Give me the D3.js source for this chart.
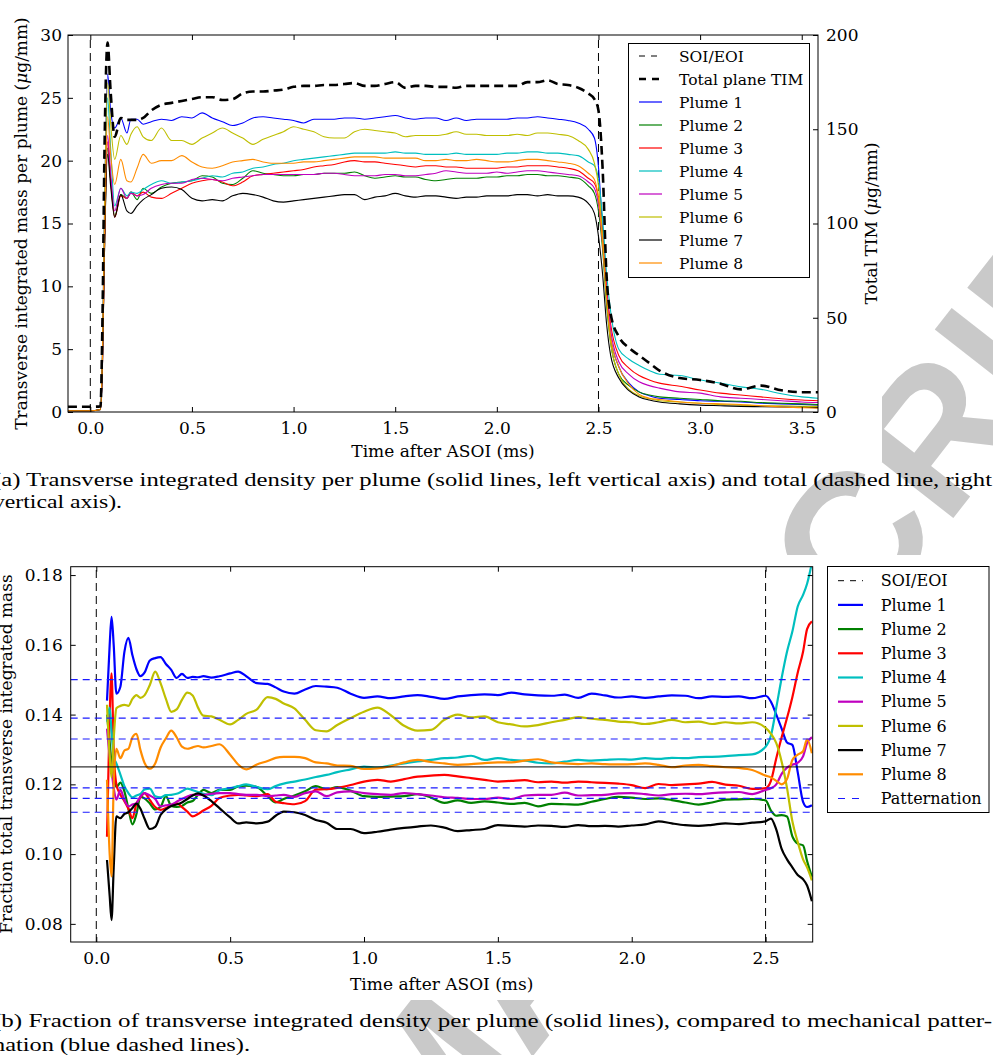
<!DOCTYPE html>
<html>
<head>
<meta charset="utf-8">
<script src="https://cdn.jsdelivr.net/npm/d3@7"></script>
<style>
  body { margin: 0; background: #fff; }
  svg { display: block; }
  text { font-family: "DejaVu Serif", serif; fill: #000; }
</style>
</head>
<body>
<svg id="fig" width="993" height="1055"></svg>
<script>
// ---------- Panel (a): transverse integrated mass per plume ----------
const tA = [-0.11, 0.0, 0.05, 0.06, 0.07, 0.085, 0.1,
  0.12, 0.15, 0.18, 0.2, 0.23, 0.26, 0.3,
  0.35, 0.4, 0.45, 0.5, 0.55, 0.6, 0.65, 0.7, 0.75, 0.8,
  0.85, 0.9, 0.95, 1.0, 1.05, 1.1, 1.15, 1.2, 1.25, 1.3,
  1.35, 1.4, 1.45, 1.5, 1.55, 1.6, 1.65, 1.7, 1.75, 1.8,
  1.85, 1.9, 1.95, 2.0, 2.05, 2.1, 2.15, 2.2, 2.25, 2.3,
  2.35, 2.4, 2.45,
  2.48, 2.5, 2.52, 2.54, 2.56, 2.6, 2.65, 2.7, 2.75, 2.8, 2.9, 3.0, 3.1, 3.2, 3.3, 3.4, 3.5, 3.58];

const massP1 = [0.1, 0.1, 0.2, 5, 16, 26.9, 24.0,
  22.6, 23.4, 22.2, 23.3, 23.3, 22.9, 23.1,
  23.3, 23.2, 23.5, 23.4, 23.8, 23.4, 23.1, 22.8, 23.0, 23.4,
  23.5, 23.4, 23.3, 23.2, 23.0, 23.3, 23.3, 23.3, 23.4, 23.4,
  23.3, 23.4, 23.5, 23.6, 23.4, 23.3, 23.4, 23.4, 23.2, 23.4,
  23.2, 23.3, 23.3, 23.3, 23.3, 23.4, 23.4, 23.5, 23.4, 23.3,
  23.2, 23.0, 22.5,
  21.8, 19.5, 14.5, 9.5, 6.0, 3.6, 2.3, 1.6, 1.3, 1.1, 1.0, 0.9, 0.85, 0.8, 0.7, 0.65, 0.6, 0.55];
const massP2 = [0.1, 0.1, 0.2, 4, 13, 21.0, 18.5,
  15.6, 17.3, 17.0, 17.5, 16.9, 17.8, 17.4,
  17.9, 18.2, 18.3, 18.4, 18.8, 18.7, 18.2, 18.1, 18.6, 19.2,
  19.0, 18.9, 18.8, 18.8, 18.9, 18.9, 19.0, 19.0, 19.0, 19.1,
  18.8, 18.6, 18.7, 18.8, 18.7, 18.7, 18.5, 18.4, 18.5, 18.6,
  18.6, 18.6, 18.7, 18.7, 18.8, 18.8, 18.9, 18.9, 18.8, 18.8,
  18.7, 18.6, 18.0,
  17.4, 16.0, 13.0, 8.5, 5.5, 3.0, 2.1, 1.6, 1.35, 1.2, 1.1, 1.0, 0.9, 0.85, 0.75, 0.7, 0.65, 0.6];
const massP3 = [0.1, 0.1, 0.2, 4, 13, 21.5, 18.5,
  15.5, 17.2, 17.0, 17.5, 17.2, 17.5, 17.1,
  17.0, 17.4, 17.8, 18.2, 18.4, 18.5, 18.3, 18.0, 18.3, 18.8,
  18.9, 19.0, 19.1, 19.2, 19.3, 19.5, 19.6, 19.7, 19.9, 20.0,
  19.9, 19.9, 19.8, 19.7, 19.6, 19.5, 19.6, 19.6, 19.5, 19.5,
  19.4, 19.4, 19.4, 19.4, 19.5, 19.5, 19.6, 19.6, 19.6, 19.5,
  19.4, 19.2, 18.6,
  18.2, 17.0, 14.0, 10.0, 7.0, 4.5, 3.5, 2.9, 2.55, 2.3, 2.05, 1.75, 1.5, 1.35, 1.2, 1.05, 0.95, 0.9];
const massP4 = [0.1, 0.1, 0.2, 4.5, 15, 25.0, 21.0,
  16.4, 17.8, 17.2, 17.5, 17.4, 17.7, 18.1,
  18.4, 18.2, 18.3, 18.4, 18.6, 18.8, 18.7, 19.0, 19.1, 19.4,
  19.5, 19.7, 19.8, 20.0, 20.1, 20.2, 20.3, 20.4, 20.5, 20.6,
  20.6, 20.6, 20.6, 20.7, 20.6, 20.6, 20.5, 20.5, 20.5, 20.6,
  20.5, 20.5, 20.5, 20.5, 20.6, 20.6, 20.7, 20.7, 20.6, 20.6,
  20.5, 20.4, 19.9,
  19.6, 18.5, 15.5, 11.0, 8.0, 5.0, 4.2, 3.7, 3.3, 3.0, 2.9, 2.55, 2.3, 2.0, 1.8, 1.45, 1.2, 1.1];
const massP5 = [0.1, 0.1, 0.2, 4, 14, 22.0, 19.0,
  16.0, 17.8, 17.0, 17.4, 17.2, 17.3, 17.8,
  18.1, 18.2, 18.2, 18.5, 18.6, 18.5, 18.4, 18.6, 18.7, 18.8,
  18.9, 18.9, 18.9, 18.9, 18.9, 18.9, 19.0, 19.0, 18.9, 18.8,
  18.8, 18.8, 18.9, 18.9, 18.8, 18.8, 18.9, 19.0, 19.2, 19.1,
  19.0, 19.0, 19.0, 19.1, 19.0, 19.1, 19.2, 19.2, 19.1, 19.0,
  18.9, 18.8, 18.3,
  17.8, 16.5, 13.5, 9.5, 6.5, 4.0, 3.0, 2.4, 2.1, 1.9, 1.6, 1.5, 1.2, 1.1, 1.0, 0.9, 0.8, 0.75];
const massP6 = [0.1, 0.1, 0.2, 5, 16, 26.2, 23.0,
  20.1, 22.0, 21.3, 22.1, 22.7, 21.9, 21.6,
  22.6, 21.6, 21.6, 21.3, 21.8, 22.2, 22.6, 22.2, 21.8, 21.3,
  21.7, 22.0, 22.3, 22.7, 22.5, 22.3, 21.9, 21.8, 21.8, 22.3,
  22.5, 22.4, 22.3, 22.2, 21.9, 22.0, 22.0, 22.0, 22.1, 22.3,
  22.1, 22.1, 22.0, 22.0, 22.0, 22.1, 22.0, 22.2, 22.2, 22.1,
  22.0, 21.6, 20.9,
  19.8, 18.0, 14.0, 9.0, 5.5, 3.0, 1.8, 1.3, 1.05, 0.9, 0.8, 0.7, 0.6, 0.55, 0.5, 0.5, 0.45, 0.45];
const massP7 = [0.1, 0.1, 0.2, 4, 13, 20.5, 18.0,
  15.5, 17.3, 16.0, 15.8, 16.4, 16.9, 17.3,
  17.8, 17.9, 17.7, 17.0, 16.8, 16.9, 16.8, 17.2, 17.4, 17.3,
  17.1, 16.8, 16.7, 16.8, 16.9, 17.0, 17.1, 17.2, 17.3, 17.3,
  16.9, 17.1, 17.2, 17.4, 17.2, 17.1, 17.2, 17.2, 17.1, 17.0,
  17.1, 17.1, 17.2, 17.2, 17.2, 17.3, 17.3, 17.2, 17.3, 17.2,
  17.2, 17.1, 16.6,
  15.8, 14.0, 11.0, 7.0, 4.5, 2.7, 1.7, 1.2, 0.95, 0.8, 0.65, 0.55, 0.5, 0.45, 0.42, 0.4, 0.37, 0.35];
const massP8 = [0.1, 0.1, 0.2, 4.5, 14, 23.5, 20.5,
  18.1, 20.1, 18.4, 18.3, 19.4, 20.5, 19.8,
  20.0, 20.0, 20.4, 19.9, 19.5, 19.4, 19.6, 19.9, 20.0, 20.1,
  19.9, 19.8, 19.8, 19.8, 19.9, 19.9, 20.0, 20.1, 20.2, 20.3,
  20.3, 20.3, 20.2, 20.2, 20.2, 20.2, 20.0, 20.0, 20.1, 20.0,
  20.0, 20.1, 20.0, 19.9, 19.9, 20.0, 20.1, 20.1, 20.0, 19.9,
  19.8, 19.6, 19.0,
  18.5, 17.0, 13.5, 9.0, 6.0, 3.6, 2.2, 1.4, 1.1, 1.0, 0.8, 0.7, 0.65, 0.6, 0.5, 0.4, 0.35, 0.3];
// Total plane TIM, right axis (ug/mm)
const totalTIM = [2.8, 2.8, 3.0, 50, 140, 196, 170,
  146, 156, 155, 155, 155, 156, 160,
  163, 164, 165, 166, 167, 167, 165.5, 166, 169, 170,
  170, 170.5, 171, 172.5, 173, 173, 173.5, 173.5, 174, 174.5,
  173, 173, 174, 175, 172, 173, 173, 172.5, 172.5, 172,
  173, 173, 173, 173, 173, 173, 175, 175, 176, 174,
  173.5, 172, 169,
  166, 160, 130, 72, 52, 40, 34, 30, 26, 22, 18, 17, 15, 12, 14, 11.5, 10.5, 10.5];

const ticksAx = [0, 0.5, 1.0, 1.5, 2.0, 2.5, 3.0, 3.5];
const ticksAyLeft = [0, 5, 10, 15, 20, 25, 30];
const ticksAyRight = [0, 50, 100, 150, 200];

// ---------- Panel (b): fraction of total transverse integrated mass ----------
const tB = [0.04, 0.05, 0.057, 0.065, 0.075, 0.09, 0.105, 0.12, 0.135, 0.15,
  0.165, 0.18, 0.2, 0.22, 0.24, 0.26, 0.28, 0.3, 0.32, 0.34,
  0.36, 0.38, 0.4, 0.43, 0.46, 0.5, 0.53, 0.56, 0.6, 0.64,
  0.67, 0.7, 0.74, 0.78, 0.82, 0.86, 0.9, 0.95, 1.0, 1.05,
  1.1, 1.15, 1.2, 1.25, 1.3, 1.35, 1.4, 1.45, 1.5, 1.55,
  1.6, 1.65, 1.7, 1.75, 1.8, 1.85, 1.9, 1.95, 2.0, 2.05,
  2.1, 2.15, 2.2, 2.25, 2.3, 2.35, 2.4, 2.45, 2.5, 2.52,
  2.54, 2.56, 2.58, 2.6, 2.62, 2.64, 2.655, 2.673];

const fracP1 = [0.144, 0.160, 0.168, 0.160, 0.146, 0.148, 0.158, 0.162, 0.157, 0.153,
  0.151, 0.152, 0.1555, 0.1562, 0.1565, 0.1545, 0.1528, 0.1505, 0.1517, 0.1505,
  0.1508, 0.1507, 0.151, 0.1506, 0.151, 0.1518, 0.1523, 0.151, 0.149, 0.1488,
  0.1478, 0.1466, 0.146, 0.1472, 0.1482, 0.148, 0.1477, 0.146, 0.1448, 0.1452,
  0.1447, 0.1452, 0.1456, 0.1451, 0.1445, 0.1452, 0.1456, 0.1458, 0.1456, 0.1463,
  0.1458, 0.1455, 0.1454, 0.1457, 0.1448, 0.146, 0.1455, 0.1449, 0.1452, 0.1448,
  0.1452, 0.1455, 0.1454, 0.1447, 0.1452, 0.1451, 0.1452, 0.1447, 0.1454, 0.1437,
  0.140, 0.136, 0.132, 0.1313, 0.1235, 0.115, 0.1135, 0.114];
const fracP2 = [0.140, 0.132, 0.126, 0.122, 0.1192, 0.1205, 0.118, 0.113, 0.1085, 0.1115,
  0.1165, 0.116, 0.1145, 0.1128, 0.1135, 0.1166, 0.1138, 0.1135, 0.1138, 0.1148,
  0.1152, 0.117, 0.1184, 0.1175, 0.1184, 0.1184, 0.1194, 0.1196, 0.1192, 0.1166,
  0.1148, 0.1158, 0.1168, 0.118, 0.1195, 0.1186, 0.1192, 0.1182, 0.1166, 0.1164,
  0.1165, 0.1166, 0.1172, 0.1162, 0.1147, 0.1154, 0.1147, 0.1151, 0.1148, 0.1144,
  0.1147, 0.1137, 0.1144, 0.1143, 0.1142, 0.115, 0.1158, 0.1164, 0.1162, 0.1158,
  0.116, 0.1155, 0.1148, 0.1142, 0.1148, 0.1156, 0.1157, 0.1158, 0.1154, 0.1125,
  0.111, 0.1112, 0.1108, 0.1051, 0.103, 0.1025, 0.098, 0.0935];
const fracP3 = [0.105, 0.140, 0.1518, 0.130, 0.120, 0.117, 0.1152, 0.113, 0.1103, 0.1145,
  0.1162, 0.1175, 0.1155, 0.1135, 0.1127, 0.1132, 0.114, 0.1146, 0.1135, 0.1122,
  0.1108, 0.1115, 0.1125, 0.1138, 0.1161, 0.1168, 0.117, 0.1168, 0.1166, 0.1172,
  0.115, 0.1146, 0.1143, 0.1152, 0.1185, 0.1186, 0.119, 0.1198, 0.1208, 0.1213,
  0.1208, 0.1215, 0.1222, 0.1225, 0.1227, 0.1223, 0.1218, 0.1213, 0.1208, 0.121,
  0.1212, 0.1206, 0.1208, 0.1205, 0.1208, 0.1206, 0.1204, 0.1202, 0.1198, 0.1189,
  0.1201, 0.1198, 0.12, 0.1202, 0.1207, 0.1199, 0.1196, 0.1187, 0.1189, 0.121,
  0.1275, 0.1335, 0.139, 0.145, 0.152, 0.158, 0.1645, 0.1667];
const fracP4 = [0.138, 0.142, 0.135, 0.128, 0.126, 0.1228, 0.1195, 0.1175, 0.1163, 0.1168,
  0.1173, 0.1185, 0.1188, 0.1166, 0.1163, 0.1169, 0.117, 0.1173, 0.118, 0.1188,
  0.1183, 0.1178, 0.1173, 0.1169, 0.1183, 0.1189, 0.1195, 0.12, 0.1192, 0.1186,
  0.1195, 0.1202, 0.1208, 0.1214, 0.1221, 0.1227, 0.1235, 0.1243, 0.1251, 0.1248,
  0.1254, 0.126, 0.1266, 0.127, 0.1275, 0.1277, 0.1282, 0.127, 0.1275, 0.127,
  0.1268, 0.1262, 0.126, 0.1265, 0.127, 0.1268, 0.127, 0.1272, 0.1271, 0.1275,
  0.1273, 0.1276, 0.1275, 0.1278, 0.1279, 0.1281, 0.1284, 0.1286, 0.1308, 0.134,
  0.142, 0.1505, 0.158, 0.1638, 0.171, 0.1743, 0.1775, 0.1835];
const fracP5 = [0.136, 0.128, 0.124, 0.119, 0.1156, 0.1184, 0.1155, 0.1137, 0.1142, 0.1146,
  0.1165, 0.1175, 0.1168, 0.1158, 0.1137, 0.114, 0.1142, 0.115, 0.1158, 0.1165,
  0.117, 0.117, 0.117, 0.1173, 0.1175, 0.1175, 0.1172, 0.117, 0.117, 0.1166,
  0.1168, 0.117, 0.1164, 0.1175, 0.118, 0.1166, 0.1177, 0.118, 0.1175, 0.1172,
  0.117, 0.1175, 0.1172, 0.1168, 0.1163, 0.1161, 0.1158, 0.1158, 0.1162, 0.1158,
  0.1168, 0.117, 0.117, 0.1176, 0.1168, 0.1169, 0.117, 0.1174, 0.1175, 0.1172,
  0.1168, 0.1172, 0.1173, 0.1172, 0.1175, 0.1177, 0.1178, 0.1172, 0.1184, 0.1189,
  0.12, 0.123, 0.1248, 0.1256, 0.1262, 0.128, 0.1318, 0.1335];
const fracP6 = [0.1428, 0.128, 0.122, 0.133, 0.1418, 0.1425, 0.1428, 0.1425, 0.1445, 0.1456,
  0.1448, 0.1455, 0.1485, 0.1523, 0.149, 0.1445, 0.1408, 0.1415, 0.1442, 0.1463,
  0.1455, 0.142, 0.1397, 0.1395, 0.1385, 0.1372, 0.1385, 0.1402, 0.1415, 0.145,
  0.1445, 0.1432, 0.1418, 0.1385, 0.1355, 0.1352, 0.137, 0.139, 0.1408, 0.142,
  0.1398, 0.1368, 0.1354, 0.1356, 0.1385, 0.14, 0.1392, 0.1395, 0.1378, 0.1372,
  0.1366, 0.137, 0.1378, 0.1385, 0.1393, 0.1388, 0.1385, 0.138, 0.1378, 0.1373,
  0.1378, 0.1385, 0.1378, 0.138, 0.1373, 0.1378, 0.1375, 0.1378, 0.1362, 0.1345,
  0.1318, 0.1265, 0.119, 0.1094, 0.1035, 0.0985, 0.0962, 0.0925];
const fracP7 = [0.0983, 0.088, 0.0811, 0.096, 0.1108, 0.1103, 0.1115, 0.112, 0.1132, 0.1145,
  0.113, 0.1102, 0.1072, 0.1078, 0.1112, 0.1128, 0.1138, 0.1142, 0.1148, 0.1158,
  0.1168, 0.1174, 0.1168, 0.1152, 0.1132, 0.1105, 0.1088, 0.1091, 0.1088, 0.1093,
  0.111, 0.1122, 0.112, 0.1112, 0.1098, 0.109, 0.1072, 0.1072, 0.106, 0.1064,
  0.107, 0.1075, 0.1079, 0.1082, 0.1076, 0.1066, 0.1069, 0.1072, 0.1083, 0.1081,
  0.1079, 0.1082, 0.1081, 0.1078, 0.1083, 0.108, 0.1081, 0.1079, 0.1082, 0.1085,
  0.1094, 0.1088, 0.1083, 0.1081, 0.1084, 0.1088, 0.1086, 0.109, 0.1094, 0.1102,
  0.107, 0.1015, 0.0985, 0.0962, 0.094, 0.0928, 0.091, 0.0865];
const fracP8 = [0.1213, 0.100, 0.0936, 0.120, 0.1302, 0.1275, 0.1297, 0.1302, 0.1335, 0.1345,
  0.1298, 0.1262, 0.1245, 0.126, 0.1305, 0.1332, 0.1354, 0.1335, 0.1308, 0.1302,
  0.1306, 0.131, 0.1306, 0.131, 0.1315, 0.1285, 0.1257, 0.1243, 0.1257, 0.1267,
  0.1276, 0.1279, 0.1279, 0.1275, 0.1263, 0.126, 0.1254, 0.1253, 0.1244, 0.1246,
  0.1252, 0.1263, 0.127, 0.1264, 0.126, 0.1256, 0.1258, 0.1261, 0.1263, 0.1263,
  0.1268, 0.1272, 0.1263, 0.126, 0.1258, 0.126, 0.1258, 0.1257, 0.1258, 0.126,
  0.1256, 0.1249, 0.1254, 0.1256, 0.1252, 0.1249, 0.1247, 0.1241, 0.1225, 0.122,
  0.121, 0.12, 0.1215, 0.127, 0.1285, 0.1295, 0.1329, 0.1289];

// Mechanical patternation fractions and the equal-share reference (1/8)
const patternation = [0.150, 0.139, 0.133, 0.119, 0.116, 0.112];
const equalShare = 0.125;

const ticksBx = [0, 0.5, 1.0, 1.5, 2.0, 2.5];
const ticksBy = [0.08, 0.10, 0.12, 0.14, 0.16, 0.18];

const eventTimes = [0, 2.5];  // SOI / EOI
const plumeNames = ["Plume 1", "Plume 2", "Plume 3", "Plume 4", "Plume 5", "Plume 6", "Plume 7", "Plume 8"];
const plumeColors = ["#0000ff", "#008000", "#ff0000", "#00bfbf", "#bf00bf", "#bfbf00", "#000000", "#ff8c00"];

const massSeries = [massP1, massP2, massP3, massP4, massP5, massP6, massP7, massP8];
const fracSeries = [fracP1, fracP2, fracP3, fracP4, fracP5, fracP6, fracP7, fracP8];

// ---------- drawing ----------
const svg = d3.select("#fig");

// Diagonal stamp that sits behind both figure panels
svg.append("text")
  .attr("transform", "translate(1212,187) rotate(-52)")
  .attr("text-anchor", "end")
  .style("font-family", "'Liberation Sans', Arial, sans-serif")
  .style("font-weight", "bold")
  .style("font-size", "190px")
  .style("fill", "#c9c9c9")
  .text("ACCEPTED MANUSCRIPT");

// opaque panel backgrounds
svg.append("rect").attr("x", 0).attr("y", 0).attr("width", 882).attr("height", 462).attr("fill", "#fff");
svg.append("rect").attr("x", 0).attr("y", 555).attr("width", 993).attr("height", 445).attr("fill", "#fff");

function pairs(ts, vs) {
  const out = [];
  for (let i = 0; i < ts.length && i < vs.length; i++) out.push([ts[i], vs[i]]);
  return out;
}

function frameAndTicks(g, x, y, xt, yt, fmtX, fmtY, opts) {
  const [x0, x1] = x.range();
  const [y0, y1] = y.range(); // y0 bottom, y1 top
  const tl = 5;
  // bottom axis
  g.append("g").attr("transform", `translate(0,${y0})`)
    .call(d3.axisBottom(x).tickValues(xt).tickFormat(fmtX).tickSizeInner(-tl).tickSizeOuter(0).tickPadding(opts.padX));
  // top ticks
  g.append("g").attr("transform", `translate(0,${y1})`)
    .call(d3.axisTop(x).tickValues(xt).tickFormat("").tickSizeInner(-tl).tickSizeOuter(0));
  // left axis
  g.append("g").attr("transform", `translate(${x0},0)`)
    .call(d3.axisLeft(y).tickValues(yt).tickFormat(fmtY).tickSizeInner(-tl).tickSizeOuter(0).tickPadding(opts.padY));
  g.selectAll(".domain").remove();
  g.selectAll(".tick text").style("font-family", "'DejaVu Serif', serif").style("font-size", "17px").attr("fill", "#000");
  g.selectAll(".tick line").attr("stroke", "#000").attr("stroke-width", 1);
}

// ===== Panel (a) =====
const xA = d3.scaleLinear().domain([-0.1097, 3.58]).range([68, 818]);
const yA = d3.scaleLinear().domain([0, 30]).range([412, 35]);
const yAR = d3.scaleLinear().domain([0, 200]).range([412, 35]);

const gA = svg.append("g");
svg.append("clipPath").attr("id", "clipA").append("rect")
  .attr("x", 68).attr("y", 35).attr("width", 750).attr("height", 377);

const plotA = gA.append("g").attr("clip-path", "url(#clipA)");
eventTimes.forEach(t => {
  plotA.append("line").attr("x1", xA(t)).attr("x2", xA(t)).attr("y1", 412).attr("y2", 35)
    .attr("stroke", "#000").attr("stroke-width", 1).attr("stroke-dasharray", "8,5");
});
const lineA = d3.line().x(d => xA(d[0])).y(d => yA(d[1])).curve(d3.curveMonotoneX);
massSeries.forEach((s, i) => {
  plotA.append("path").datum(pairs(tA, s)).attr("d", lineA)
    .attr("fill", "none").attr("stroke", plumeColors[i]).attr("stroke-width", 1.1);
});
const lineTot = d3.line().x(d => xA(d[0])).y(d => yAR(d[1])).curve(d3.curveMonotoneX);
plotA.append("path").datum(pairs(tA, totalTIM)).attr("d", lineTot)
  .attr("fill", "none").attr("stroke", "#000").attr("stroke-width", 2.6).attr("stroke-dasharray", "9,5");

frameAndTicks(gA, xA, yA, ticksAx, ticksAyLeft, d3.format(".1f"), d3.format("d"), { padX: 10, padY: 6 });
// right axis (total)
const axR = gA.append("g").attr("transform", "translate(818,0)")
  .call(d3.axisRight(yAR).tickValues(ticksAyRight).tickFormat(d3.format("d")).tickSizeInner(-5).tickSizeOuter(0).tickPadding(8));
axR.select(".domain").remove();
axR.selectAll(".tick text").style("font-family", "'DejaVu Serif', serif").style("font-size", "17px").attr("fill", "#000");
gA.append("rect").attr("x", 68).attr("y", 35).attr("width", 750).attr("height", 377)
  .attr("fill", "none").attr("stroke", "#000").attr("stroke-width", 1);

gA.append("text").attr("x", 443).attr("y", 457).attr("text-anchor", "middle").style("font-size", "17px")
  .text("Time after ASOI (ms)");
const ylA = gA.append("text").attr("transform", "translate(27,223.5) rotate(-90)")
  .attr("text-anchor", "middle").style("font-size", "17px");
ylA.append("tspan").text("Transverse integrated mass per plume (");
ylA.append("tspan").style("font-style", "italic").text("\u03bc");
ylA.append("tspan").text("g/mm)");
const yrA = gA.append("text").attr("transform", "translate(877,223.5) rotate(-90)")
  .attr("text-anchor", "middle").style("font-size", "17px");
yrA.append("tspan").text("Total TIM (");
yrA.append("tspan").style("font-style", "italic").text("\u03bc");
yrA.append("tspan").text("g/mm)");

// legend (a)
const legA = gA.append("g");
legA.append("rect").attr("x", 628.5).attr("y", 43.5).attr("width", 181).attr("height", 234)
  .attr("fill", "#fff").attr("stroke", "#000").attr("stroke-width", 1);
const legAItems = [{ label: "SOI/EOI", color: "#000", w: 1, dash: "6,6" },
  { label: "Total plane TIM", color: "#000", w: 2.6, dash: "7,6" }]
  .concat(plumeNames.map((n, i) => ({ label: n, color: plumeColors[i], w: 1.2, dash: null })));
legAItems.forEach((it, i) => {
  const cy = 56 + 23 * i;
  const ln = legA.append("line").attr("x1", 639).attr("x2", 662).attr("y1", cy).attr("y2", cy)
    .attr("stroke", it.color).attr("stroke-width", it.w);
  if (it.dash) ln.attr("stroke-dasharray", it.dash);
  legA.append("text").attr("x", 679).attr("y", cy).attr("dy", "0.36em").style("font-size", "15.5px").text(it.label);
});

// ===== Panel (b) =====
const xB = d3.scaleLinear().domain([-0.0956, 2.676]).range([70.7, 812.7]);
const yB = d3.scaleLinear().domain([0.0748, 0.1824]).range([942, 566.7]);

const gB = svg.append("g");
svg.append("clipPath").attr("id", "clipB").append("rect")
  .attr("x", 70.7).attr("y", 566.7).attr("width", 742).attr("height", 375.3);
const plotB = gB.append("g").attr("clip-path", "url(#clipB)");

eventTimes.forEach(t => {
  plotB.append("line").attr("x1", xB(t)).attr("x2", xB(t)).attr("y1", 942).attr("y2", 566.7)
    .attr("stroke", "#000").attr("stroke-width", 1).attr("stroke-dasharray", "8,5");
});
const lineB = d3.line().x(d => xB(d[0])).y(d => yB(d[1])).curve(d3.curveMonotoneX);
fracSeries.forEach((s, i) => {
  plotB.append("path").datum(pairs(tB, s)).attr("d", lineB)
    .attr("fill", "none").attr("stroke", plumeColors[i]).attr("stroke-width", 2.2);
});
patternation.forEach(v => {
  plotB.append("line").attr("x1", 70.7).attr("x2", 812.7).attr("y1", yB(v)).attr("y2", yB(v))
    .attr("stroke", "#1a1aff").attr("stroke-width", 1.2).attr("stroke-dasharray", "7,5");
});
plotB.append("line").attr("x1", 70.7).attr("x2", 812.7).attr("y1", yB(equalShare)).attr("y2", yB(equalShare))
  .attr("stroke", "#000").attr("stroke-width", 1);

frameAndTicks(gB, xB, yB, ticksBx, ticksBy, d3.format(".1f"), d3.format(".2f"), { padX: 10, padY: 8 });
const axBR = gB.append("g").attr("transform", "translate(812.7,0)")
  .call(d3.axisRight(yB).tickValues(ticksBy).tickFormat("").tickSizeInner(-5).tickSizeOuter(0));
axBR.select(".domain").remove();
gB.append("rect").attr("x", 70.7).attr("y", 566.7).attr("width", 742).attr("height", 375.3)
  .attr("fill", "none").attr("stroke", "#000").attr("stroke-width", 1);

gB.append("text").attr("x", 441.7).attr("y", 990).attr("text-anchor", "middle").style("font-size", "17px")
  .text("Time after ASOI (ms)");
gB.append("text").attr("transform", "translate(12,754) rotate(-90)")
  .attr("text-anchor", "middle").style("font-size", "17px")
  .text("Fraction total transverse integrated mass");

// legend (b)
const legB = gB.append("g");
legB.append("rect").attr("x", 827.5).attr("y", 566.5).attr("width", 161.5).attr("height", 246)
  .attr("fill", "#fff").attr("stroke", "#000").attr("stroke-width", 1);
const legBItems = [{ label: "SOI/EOI", color: "#000", w: 1, dash: "6,6" }]
  .concat(plumeNames.map((n, i) => ({ label: n, color: plumeColors[i], w: 2.2, dash: null })))
  .concat([{ label: "Patternation", color: "#1a1aff", w: 1.2, dash: "7,7" }]);
legBItems.forEach((it, i) => {
  const cy = 580.7 + 24.2 * i;
  const ln = legB.append("line").attr("x1", 838).attr("x2", 863).attr("y1", cy).attr("y2", cy)
    .attr("stroke", it.color).attr("stroke-width", it.w);
  if (it.dash) ln.attr("stroke-dasharray", it.dash);
  legB.append("text").attr("x", 880.7).attr("y", cy).attr("dy", "0.36em").style("font-size", "16px").text(it.label);
});

// ---------- captions ----------
const captions = [
  { text: "(a) Transverse integrated density per plume (solid lines, left vertical axis) and total (dashed line, right", x: -7, y: 486, len: 999 },
  { text: "vertical axis).", x: -7, y: 508, len: 129 },
  { text: "(b) Fraction of transverse integrated density per plume (solid lines), compared to mechanical patter-", x: -7, y: 1027, len: 999 },
  { text: "nation (blue dashed lines).", x: -7, y: 1051, len: 257 }
];
captions.forEach(c => {
  svg.append("text").attr("x", c.x).attr("y", c.y)
    .attr("textLength", c.len).attr("lengthAdjust", "spacingAndGlyphs")
    .style("font-family", "'Liberation Serif', 'Times New Roman', serif").style("font-size", "19.5px")
    .text(c.text);
});
</script>
</body>
</html>
